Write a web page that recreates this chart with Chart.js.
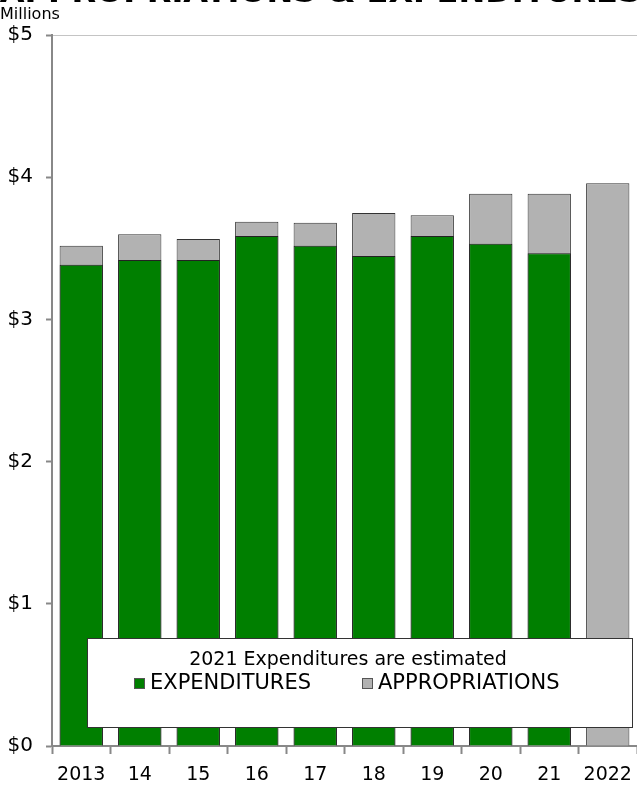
<!DOCTYPE html>
<html lang="en">
<head>
    <meta charset="UTF-8">
    <title>Appropriations &amp; Expenditures</title>
    <script src="https://cdn.jsdelivr.net/npm/chart.js"></script>
    <style>
        body { margin: 0; background: #fff; }
        #chartContainer { width: 637px; height: 786px; position: relative; }
    </style>
</head>
<body>
    <div id="chartContainer">
        <canvas id="budgetChart" width="637" height="786"></canvas>
    </div>

    <script>
        // data (millions of dollars)
        const years = ['2013', '14', '15', '16', '17', '18', '19', '20', '21', '2022'];
        const expenditures = [3.385, 3.418, 3.418, 3.587, 3.518, 3.446, 3.587, 3.532, 3.465, null];
        const appropriations = [3.518, 3.598, 3.565, 3.687, 3.680, 3.748, 3.732, 3.884, 3.884, 3.957];
        const yTicks = [0, 1, 2, 3, 4, 5];
        const legendNote = '2021 Expenditures are estimated';

        const FONT = '"DejaVu Sans", Verdana, sans-serif';

        // title (cut off at top), "Millions" and the boxed legend
        const extras = {
            id: 'extras',
            afterDraw(chart) {
                const ctx = chart.ctx;
                ctx.save();
                ctx.fillStyle = '#000';
                ctx.font = 'bold 32px ' + FONT;
                ctx.textAlign = 'right';
                ctx.textBaseline = 'alphabetic';
                ctx.fillText('APPROPRIATIONS & EXPENDITURES', 641, 2);

                ctx.font = '16px ' + FONT;
                ctx.textAlign = 'left';
                ctx.textBaseline = 'middle';
                ctx.fillText('Millions', 0, 15);

                // legend box
                const x0 = 87, y0 = 638, w = 545, h = 89;
                ctx.fillStyle = '#fff';
                ctx.fillRect(x0, y0, w, h);
                ctx.strokeStyle = '#333';
                ctx.lineWidth = 1;
                ctx.strokeRect(x0 + 0.5, y0 + 0.5, w, h);

                ctx.fillStyle = '#000';
                ctx.font = '19px ' + FONT;
                ctx.textAlign = 'center';
                ctx.fillText(legendNote, 348, 660);

                const items = [chart.data.datasets[0], chart.data.datasets[1]];
                const itemX = [134, 362];
                ctx.font = '21px ' + FONT;
                ctx.textAlign = 'left';
                items.forEach((ds, i) => {
                    ctx.fillStyle = ds.backgroundColor;
                    ctx.fillRect(itemX[i], 678, 10, 10);
                    ctx.strokeStyle = '#555';
                    ctx.strokeRect(itemX[i] + 0.5, 678.5, 10, 10);
                    ctx.fillStyle = '#000';
                    ctx.fillText(ds.label, itemX[i] + 16, 684);
                });
                ctx.restore();
            }
        };

        const ctx = document.getElementById('budgetChart').getContext('2d');
        new Chart(ctx, {
            type: 'bar',
            data: {
                labels: years,
                datasets: [
                    {
                        label: 'EXPENDITURES',
                        data: expenditures,
                        backgroundColor: '#007f00',
                        borderColor: '#222',
                        borderWidth: 1,
                        grouped: false,
                        order: 0
                    },
                    {
                        label: 'APPROPRIATIONS',
                        data: appropriations,
                        backgroundColor: '#b2b2b2',
                        borderColor: '#333',
                        borderWidth: 1,
                        grouped: false,
                        order: 1
                    }
                ]
            },
            options: {
                responsive: false,
                animation: false,
                categoryPercentage: 1,
                barPercentage: 0.74,
                layout: { padding: { top: 35, left: 0, right: 0, bottom: 0 } },
                plugins: {
                    legend: { display: false },
                    tooltip: { enabled: false }
                },
                scales: {
                    x: {
                        afterFit: axis => {
                            axis.height = 40;
                            axis.paddingLeft = 0;
                            axis.paddingRight = 0;
                        },
                        grid: {
                            offset: true,
                            drawOnChartArea: false,
                            tickLength: 8,
                            tickColor: '#888',
                            tickWidth: 2
                        },
                        border: { color: '#888', width: 2 },
                        ticks: {
                            color: '#000',
                            padding: 10,
                            font: { family: FONT, size: 19 }
                        }
                    },
                    y: {
                        min: 0,
                        max: 5,
                        afterBuildTicks: axis => { axis.ticks = yTicks.map(v => ({ value: v })); },
                        afterFit: axis => { axis.width = 52; },
                        grid: {
                            color: c => (c.tick && c.tick.value === 5 ? '#c4c4c4' : 'rgba(0,0,0,0)'),
                            tickColor: '#888',
                            tickLength: 6,
                            tickWidth: 2
                        },
                        border: { color: '#888', width: 2 },
                        ticks: {
                            color: '#000',
                            padding: 13,
                            font: { family: FONT, size: 20 },
                            callback: v => '$' + v
                        }
                    }
                }
            },
            plugins: [extras]
        });
    </script>
</body>
</html>
